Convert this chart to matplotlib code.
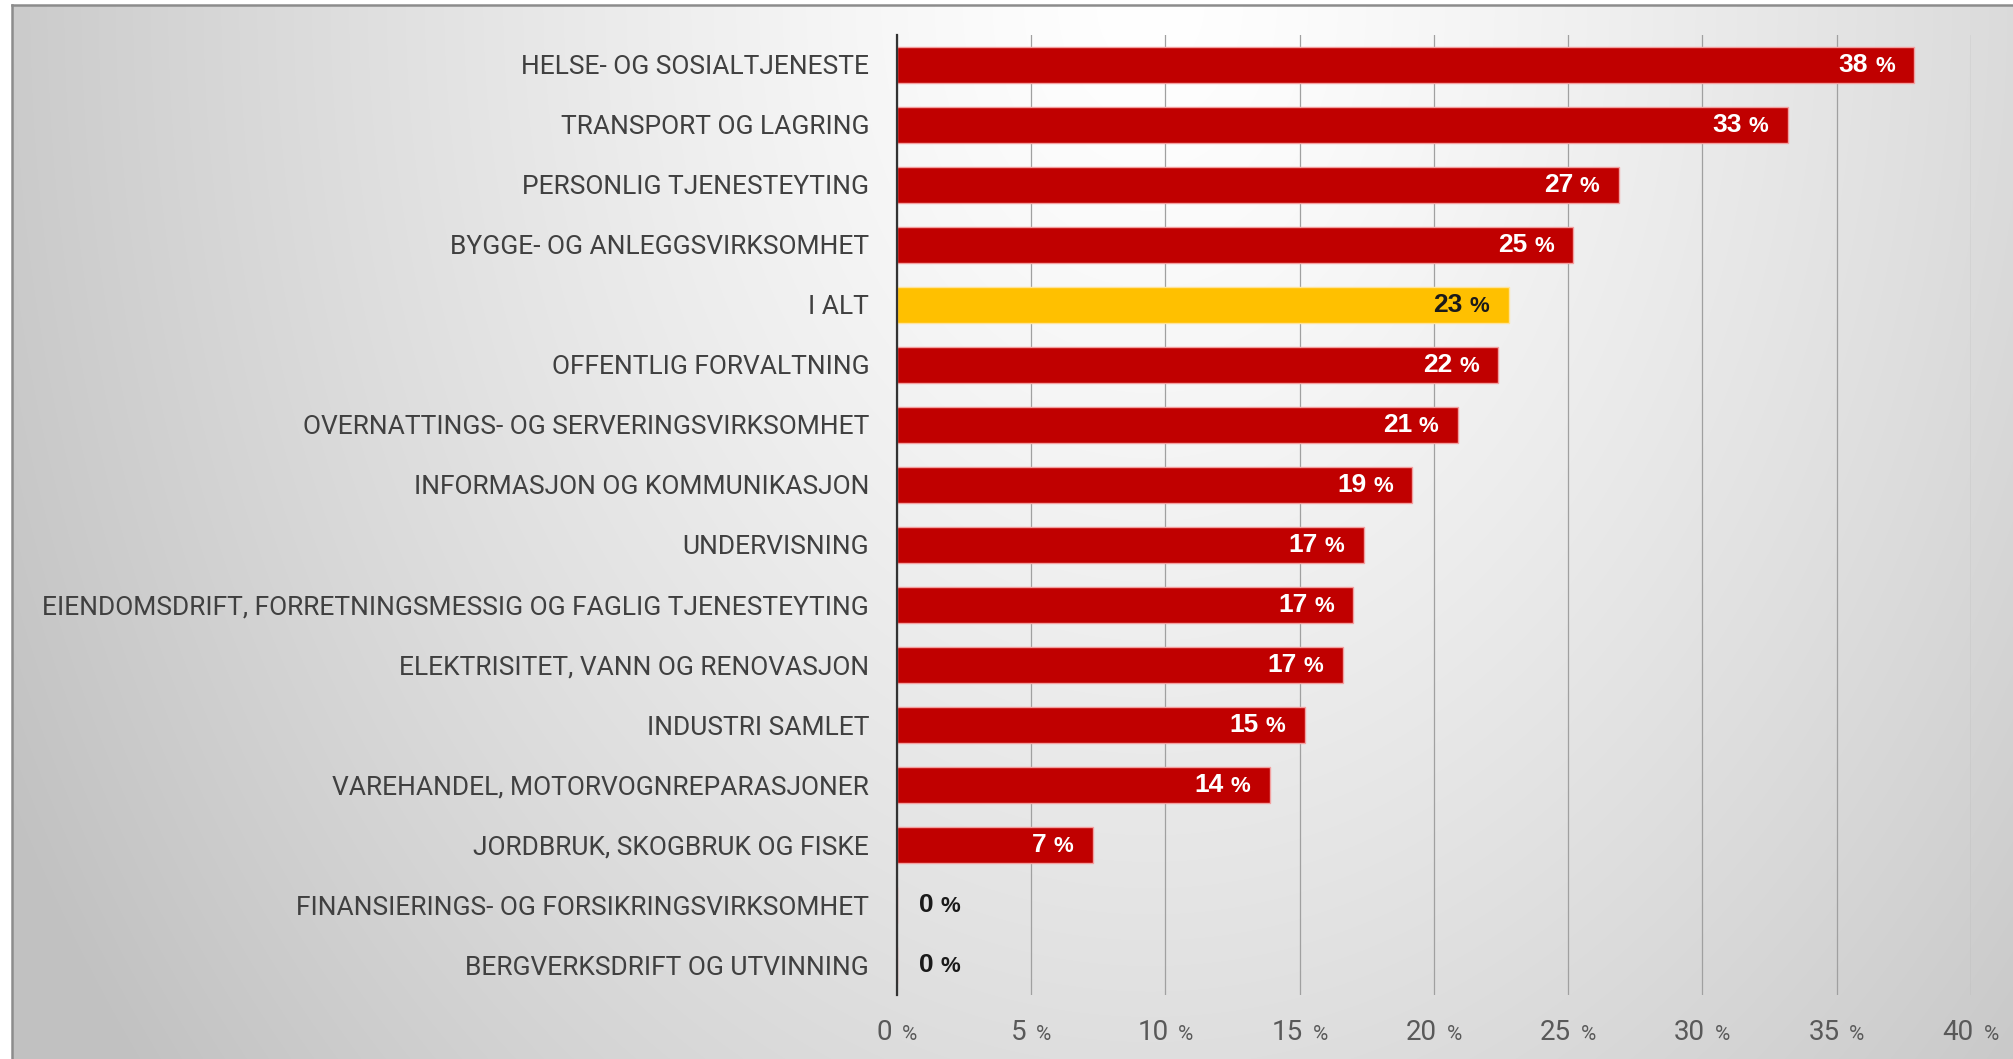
import numpy as np
import matplotlib
matplotlib.use("Agg")
import matplotlib.pyplot as plt
from matplotlib.offsetbox import TextArea, HPacker, AnnotationBbox

FONT = "Liberation Sans"
LABEL_FONT = "Roboto"
plt.rcParams["font.family"] = FONT

# data
categories = [
    "HELSE- OG SOSIALTJENESTE",
    "TRANSPORT OG LAGRING",
    "PERSONLIG TJENESTEYTING",
    "BYGGE- OG ANLEGGSVIRKSOMHET",
    "I ALT",
    "OFFENTLIG FORVALTNING",
    "OVERNATTINGS- OG SERVERINGSVIRKSOMHET",
    "INFORMASJON OG KOMMUNIKASJON",
    "UNDERVISNING",
    "EIENDOMSDRIFT, FORRETNINGSMESSIG OG FAGLIG TJENESTEYTING",
    "ELEKTRISITET, VANN OG RENOVASJON",
    "INDUSTRI SAMLET",
    "VAREHANDEL, MOTORVOGNREPARASJONER",
    "JORDBRUK, SKOGBRUK OG FISKE",
    "FINANSIERINGS- OG FORSIKRINGSVIRKSOMHET",
    "BERGVERKSDRIFT OG UTVINNING",
]
values = [37.9, 33.2, 26.9, 25.2, 22.8, 22.4, 20.9, 19.2, 17.4, 17.0, 16.6, 15.2, 13.9, 7.3, 0.0, 0.0]
labels = [38, 33, 27, 25, 23, 22, 21, 19, 17, 17, 17, 15, 14, 7, 0, 0]
total_label = "I ALT"
xticks = [0, 5, 10, 15, 20, 25, 30, 35, 40]

RED = "#c00000"
YELLOW = "#ffc000"

W, H = 2013, 1059
fig = plt.figure(figsize=(W / 100, H / 100), dpi=100)

# background: soft radial grey gradient inside a thin grey frame
bg = fig.add_axes([0, 0, 1, 1], zorder=0)
yy, xx = np.mgrid[0:H, 0:W]
r = np.sqrt(((xx - 1150) / 1137.0) ** 2 + (yy / 1513.0) ** 2)
val = np.clip(1 - (52 / 255.0) * r ** 1.3, 0.76, 1.0)
val[:5, :] = 1.0
val[:, :12] = 1.0
bg.imshow(np.dstack([val] * 3), extent=(0, W, H, 0), aspect="auto", interpolation="bilinear")
bg.plot([12, 12], [H, 5], color="#8c8c8c", lw=1.8)
bg.plot([12, W], [5, 5], color="#8c8c8c", lw=1.8)
bg.set_xlim(0, W)
bg.set_ylim(H, 0)
bg.axis("off")

ax = fig.add_axes([0.4456, 0.0604, 0.979 - 0.4456, 0.967 - 0.0604], zorder=1)
ax.set_facecolor("none")

ypos = np.arange(len(categories))
colors = [YELLOW if c == total_label else RED for c in categories]
edges = ["#ffe39a" if c == total_label else "#f3a0a0" for c in categories]
ax.barh(ypos, values, height=0.6, color=colors, edgecolor=edges, linewidth=1.0, zorder=2)

ax.set_xlim(0, 40)
ax.set_ylim(len(categories) - 0.5, -0.5)
ax.set_xticks(xticks)
ax.set_xticklabels([])
ax.xaxis.grid(True, color="#a0a0a0", lw=0.9)
ax.set_axisbelow(True)
ax.set_yticks(ypos)
ax.set_yticklabels(categories, fontsize=19, color="#404040", family=LABEL_FONT)
ax.tick_params(axis="both", length=0)
ax.tick_params(axis="y", pad=20)
for s in ["top", "right", "bottom"]:
    ax.spines[s].set_visible(False)
ax.spines["left"].set_color("#333333")
ax.spines["left"].set_linewidth(1.6)
ax.spines["left"].set_zorder(3)


def pct_box(ax, xy, num, big, small, color, weight, family, sep, align, offset, coords):
    t1 = TextArea(str(num), textprops=dict(size=big, color=color, weight=weight, family=family))
    t2 = TextArea("%", textprops=dict(size=small, color=color, weight=weight, family=family))
    box = HPacker(children=[t1, t2], align="baseline", pad=0, sep=sep)
    ab = AnnotationBbox(box, xy, xycoords=coords, xybox=offset, boxcoords="offset points",
                        box_alignment=align, frameon=False, pad=0, annotation_clip=False, zorder=4)
    ax.add_artist(ab)


# value labels
for i, (v, lab, c) in enumerate(zip(values, labels, categories)):
    if v <= 0:
        pct_box(ax, (0, i), lab, 19, 16, "#1a1a1a", "bold", FONT, 5, (0, 0.5), (16, 0), "data")
    else:
        col = "#1a1a1a" if c == total_label else "white"
        pct_box(ax, (v, i), lab, 19, 16, col, "bold", FONT, 5, (1, 0.5), (-14, 0), "data")

# x tick labels with small % sign
for t in xticks:
    pct_box(ax, (t, 0), t, 20, 15, "#595959", "normal", LABEL_FONT, 7, (0.5, 1), (0, -17),
            ax.get_xaxis_transform())

fig.savefig("out.png", dpi=100)
